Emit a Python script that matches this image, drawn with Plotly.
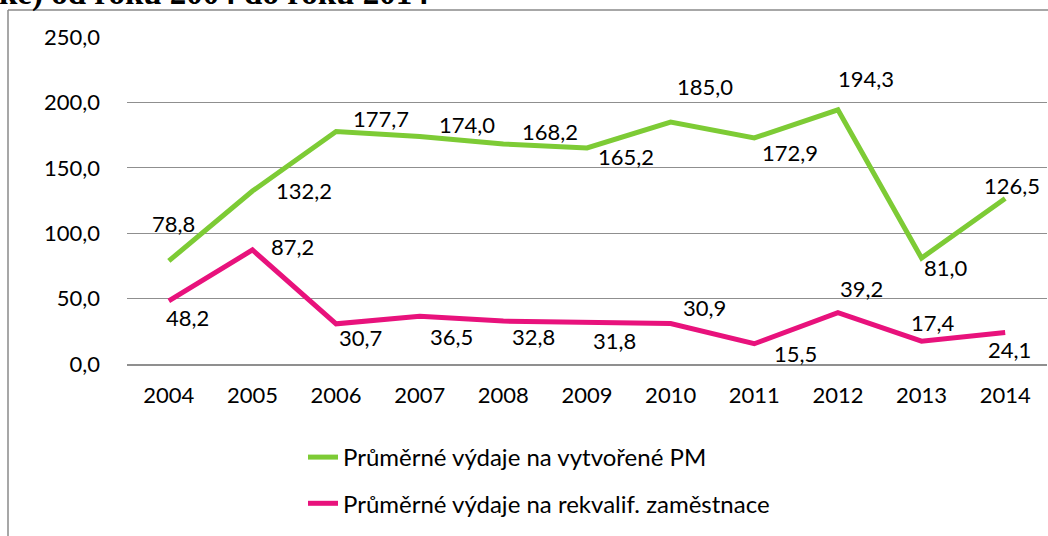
import plotly.graph_objects as go

# ---------------- data ----------------
years = ["2004", "2005", "2006", "2007", "2008", "2009", "2010", "2011", "2012", "2013", "2014"]
vytvorene_pm = [78.8, 132.2, 177.7, 174.0, 168.2, 165.2, 185.0, 172.9, 194.3, 81.0, 126.5]
rekvalif = [48.2, 87.2, 30.7, 36.5, 32.8, 31.8, 30.9, 15.5, 39.2, 17.4, 24.1]
series_names = ["Průměrné výdaje na vytvořené PM", "Průměrné výdaje na rekvalif. zaměstnace"]
y_ticks = [0, 50, 100, 150, 200, 250]
title_fragment = "ke) od roku 2004 do roku 2014"

# ---------------- style ----------------
GREEN = "#7dcb35"
PINK = "#e8127c"
GRID = "#8f8f8f"
FONT = "Lato"
FS = 22

# label offsets (pixels, dx right, dy down) relative to each point
green_off = [(5, -37), (52, -1), (45, -13), (47, -12), (47, -12), (39, 9),
             (34, -36), (36, 15), (28, -31), (24, 9), (7, -13)]
pink_off = [(19, 17), (40, -3), (24, 14), (32, 20), (30, 15), (27, 18),
            (34, -16), (41, 10), (24, -24), (11, -19), (4, 17)]

W_PX, H_PX = 1048, 536
L, R, T, B = 127, 1047, 37, 364
PW, PH = R - L, B - T


def xp(px):
    return (px - L) / PW


def yp(py):
    return (B - py) / PH


fig = go.Figure()
fig.add_trace(go.Scatter(x=years, y=vytvorene_pm, mode="lines", name=series_names[0],
                         line=dict(color=GREEN, width=5), legendgroup="a"))
fig.add_trace(go.Scatter(x=years, y=rekvalif, mode="lines", name=series_names[1],
                         line=dict(color=PINK, width=5), legendgroup="b"))

annotations = []
for vals, offs in ((vytvorene_pm, green_off), (rekvalif, pink_off)):
    for idx, (v, (dx, dy)) in enumerate(zip(vals, offs)):
        annotations.append(dict(x=idx, y=v, xref="x", yref="y",
                                text=f"{v:.1f}".replace(".", ","),
                                showarrow=False, xanchor="center", yanchor="middle",
                                xshift=dx, yshift=-dy,
                                font=dict(family=FONT, size=FS, color="#000000")))

annotations.append(dict(x=xp(-3), y=yp(-6), xref="paper", yref="paper",
                        text=title_fragment, showarrow=False,
                        xanchor="left", yanchor="middle",
                        font=dict(family="Liberation Serif", size=33, color="#000000", weight="bold")))

shapes = [
    dict(type="line", xref="paper", yref="paper", x0=xp(8), x1=xp(8), y0=yp(10), y1=yp(545),
         line=dict(color="#8a8a8a", width=1.5)),
    dict(type="line", xref="paper", yref="paper", x0=xp(8), x1=xp(1060), y0=yp(10), y1=yp(10),
         line=dict(color="#8a8a8a", width=1.5)),
]

fig.update_layout(
    width=W_PX, height=H_PX,
    margin=dict(l=L, r=W_PX - R, t=T, b=H_PX - B, pad=0, autoexpand=False),
    paper_bgcolor="white", plot_bgcolor="white",
    separators=", ",
    font=dict(family=FONT, size=FS, color="#000000"),
    showlegend=True,
    legend=dict(x=xp(303), y=yp(435), xanchor="left", yanchor="top",
                orientation="v", traceorder="grouped", tracegroupgap=12,
                font=dict(family=FONT, size=24, color="#000000"),
                bgcolor="rgba(0,0,0,0)"),
    annotations=annotations,
    shapes=shapes,
)

fig.update_xaxes(type="category", range=[-0.5, 10.5], showgrid=False,
                 showline=True, linecolor=GRID, linewidth=1.5, automargin=False,
                 ticks="", ticklabelstandoff=11,
                 tickfont=dict(family=FONT, size=FS))
fig.update_yaxes(range=[0, 250], tickvals=y_ticks, tickformat=".1f",
                 showgrid=True, gridcolor=GRID, gridwidth=1.3, automargin=False,
                 zeroline=False, showline=False, ticks="",
                 ticklabelstandoff=26,
                 tickfont=dict(family=FONT, size=FS))

fig.write_html("out.html",
               config={"displayModeBar": False},
               post_script="document.body.style.margin='0';document.body.style.padding='0';")
